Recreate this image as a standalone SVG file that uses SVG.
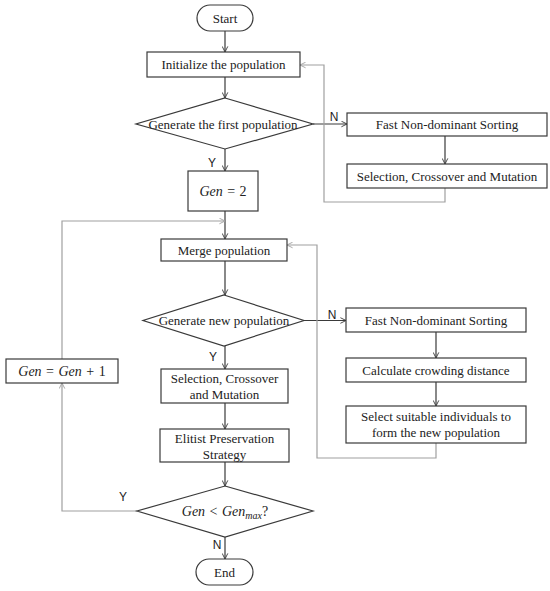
<svg xmlns="http://www.w3.org/2000/svg" width="550" height="591" viewBox="0 0 550 591">
<style>
.box{fill:#fff;stroke:#3a3a3a;stroke-width:1.2}
.t{font-family:"Liberation Serif","Times New Roman",serif;font-size:13px;fill:#222;text-anchor:middle}
.m{font-family:"Liberation Serif","Times New Roman",serif;font-size:14px;fill:#222;text-anchor:middle;word-spacing:1px}
.lb{font-family:"Liberation Sans",Arial,sans-serif;font-size:12px;fill:#222;text-anchor:middle}
.c{fill:none;stroke:#3a3a3a;stroke-width:1.2}
.g{fill:none;stroke:#a0a0a0;stroke-width:1.2}
</style>
<defs>
<marker id="a" viewBox="0 0 10 10" refX="9" refY="5" markerWidth="7" markerHeight="7" orient="auto" markerUnits="userSpaceOnUse">
<path d="M1,1 L9,5 L1,9" fill="none" stroke="#3a3a3a" stroke-width="1.3"/>
</marker>
<marker id="ag" viewBox="0 0 10 10" refX="9" refY="5" markerWidth="7" markerHeight="7" orient="auto" markerUnits="userSpaceOnUse">
<path d="M1,1 L9,5 L1,9" fill="none" stroke="#a0a0a0" stroke-width="1.3"/>
</marker>
</defs>
<g id="connectors">
<path class="c" d="M225,31 V52" marker-end="url(#a)"/>
<path class="c" d="M225,77 V98" marker-end="url(#a)"/>
<path class="c" d="M225,149 V171" marker-end="url(#a)"/>
<path class="c" d="M313,124 H347" marker-end="url(#a)"/>
<path class="c" d="M445,136 V164" marker-end="url(#a)"/>
<path class="g" d="M445,188 V202 H324 V65 H300" marker-end="url(#ag)"/>
<path class="c" d="M225,211 V239" marker-end="url(#a)"/>
<path class="g" d="M62,359 V221 H225" marker-end="url(#ag)"/>
<path class="c" d="M225,261 V295" marker-end="url(#a)"/>
<path class="c" d="M304,320.5 H346" marker-end="url(#a)"/>
<path class="c" d="M436,332 V358" marker-end="url(#a)"/>
<path class="c" d="M436,382 V406" marker-end="url(#a)"/>
<path class="g" d="M436,443 V458 H317 V245 H287" marker-end="url(#ag)"/>
<path class="c" d="M225,346 V369" marker-end="url(#a)"/>
<path class="c" d="M225,403 V429" marker-end="url(#a)"/>
<path class="c" d="M225,462 V486" marker-end="url(#a)"/>
<path class="g" d="M137,511 H62 V383" marker-end="url(#ag)"/>
<path class="c" d="M225,537 V559" marker-end="url(#a)"/>
<text class="lb" x="334" y="121">N</text>
<text class="lb" x="212" y="167">Y</text>
<text class="lb" x="332" y="319">N</text>
<text class="lb" x="213" y="361">Y</text>
<text class="lb" x="123" y="501">Y</text>
<text class="lb" x="217" y="549">N</text>
</g>
<g id="start"><rect class="box" x="197" y="5" width="56" height="26" rx="13"/><text class="t" x="225" y="22.5">Start</text></g>
<g id="init"><rect class="box" x="147" y="52" width="153" height="25"/><text class="t" x="223.5" y="69">Initialize the population</text></g>
<g id="d1"><polygon class="box" points="225,98 313,124 225,149 136,124"/><text class="t" x="223" y="128.5">Generate the first population</text></g>
<g id="fast1"><rect class="box" x="347" y="113" width="200" height="23"/><text class="t" x="447" y="129">Fast Non-dominant Sorting</text></g>
<g id="sel1"><rect class="box" x="347" y="164" width="200" height="24"/><text class="t" x="447" y="180.5">Selection, Crossover and Mutation</text></g>
<g id="gen2"><rect class="box" x="188" y="171" width="70" height="40"/><text class="m" x="223" y="195.5"><tspan font-style="italic">Gen</tspan> = 2</text></g>
<g id="merge"><rect class="box" x="161" y="239" width="126" height="22"/><text class="t" x="224" y="254.5">Merge population</text></g>
<g id="d2"><polygon class="box" points="224,295 304,320.5 224,346 143,320.5"/><text class="t" x="224" y="325">Generate new population</text></g>
<g id="fast2"><rect class="box" x="346" y="308" width="180" height="24"/><text class="t" x="436" y="324.5">Fast Non-dominant Sorting</text></g>
<g id="calc"><rect class="box" x="346" y="358" width="180" height="24"/><text class="t" x="436" y="374.5">Calculate crowding distance</text></g>
<g id="selsuit"><rect class="box" x="346" y="406" width="180" height="37"/><text class="t" x="436" y="420.5">Select suitable individuals to</text><text class="t" x="436" y="436.5">form the new population</text></g>
<g id="genplus"><rect class="box" x="6" y="359" width="112" height="24"/><text class="m" x="62" y="376"><tspan font-style="italic">Gen</tspan> = <tspan font-style="italic">Gen</tspan> + 1</text></g>
<g id="sel2"><rect class="box" x="161" y="369" width="127" height="34"/><text class="t" x="224.5" y="383">Selection, Crossover</text><text class="t" x="224.5" y="399">and Mutation</text></g>
<g id="elitist"><rect class="box" x="160" y="429" width="129" height="33"/><text class="t" x="224.5" y="443">Elitist Preservation</text><text class="t" x="224.5" y="459">Strategy</text></g>
<g id="d3"><polygon class="box" points="225,486 313,511 225,537 137,511"/><text class="m" x="225" y="515.5"><tspan font-style="italic">Gen</tspan> &lt; <tspan font-style="italic">Gen</tspan><tspan font-style="italic" font-size="10" dy="3">max</tspan><tspan dy="-3">?</tspan></text></g>
<g id="end"><rect class="box" x="196" y="559" width="57" height="26" rx="13"/><text class="t" x="224.5" y="576.5">End</text></g>
</svg>
